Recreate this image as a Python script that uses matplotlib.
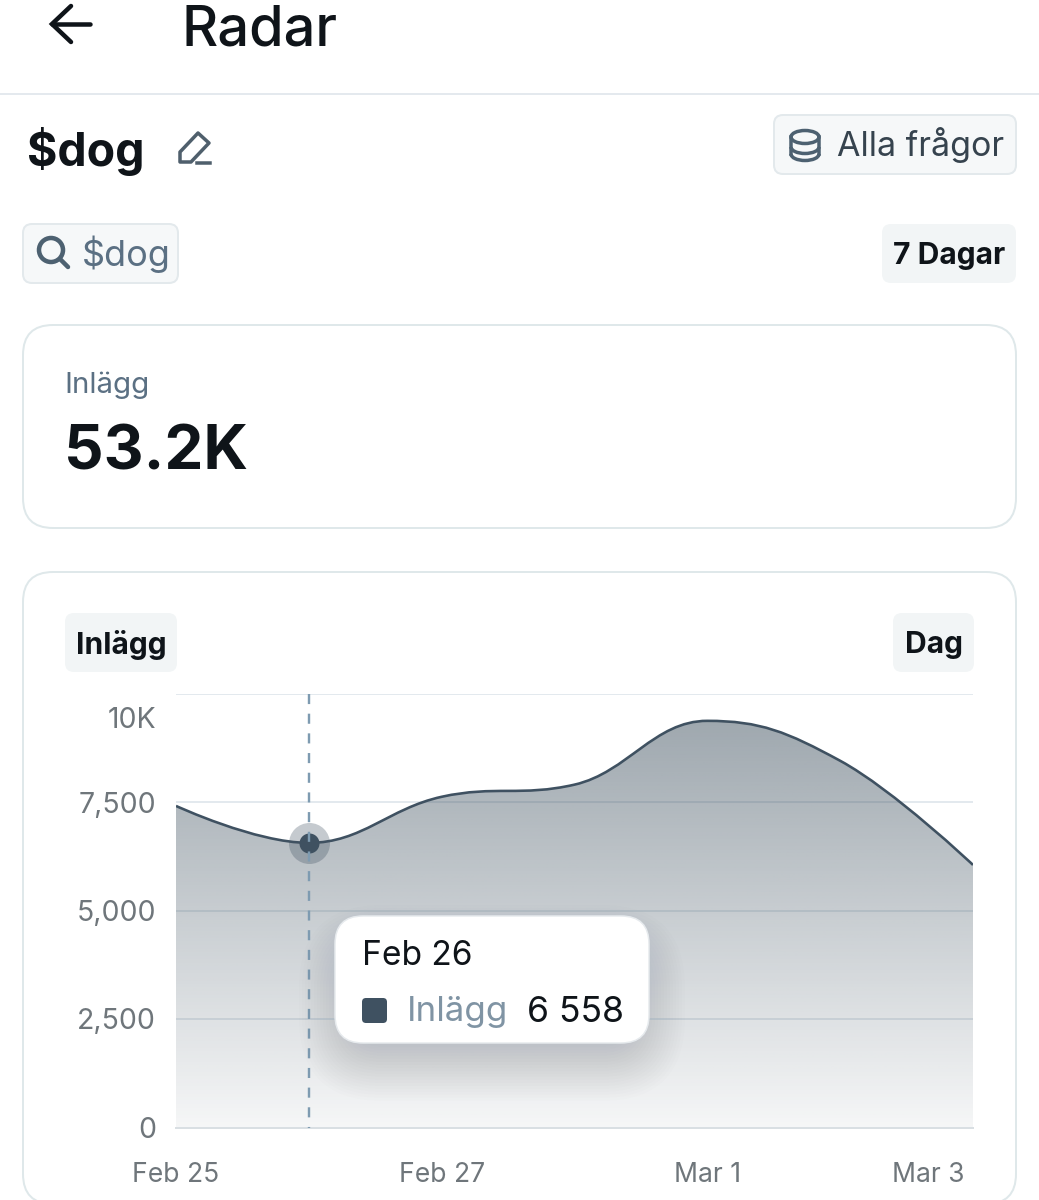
import numpy as np
import matplotlib
matplotlib.use('Agg')
import matplotlib.pyplot as plt
from matplotlib.patches import FancyBboxPatch, PathPatch, Circle, Ellipse, Polygon, Arc
from matplotlib.path import Path
from matplotlib.transforms import ScaledTranslation

# Data
day_labels = ['Feb 25', 'Feb 26', 'Feb 27', 'Feb 28', 'Mar 1', 'Mar 2', 'Mar 3']
post_counts = [7410, 6558, 7620, 7900, 9370, 8450, 6050]
y_ticks = [0, 2500, 5000, 7500, 10000]
y_tick_labels = ['0', '2,500', '5,000', '7,500', '10K']
total_label = '53.2K'
hover_index = 1
hover_value = '6 558'

W, H = 1039, 1200
DARK = '#0f1419'
SLATE = '#3f5161'
MUTED = '#5b7083'
TICK = '#6f767b'
ICON = '#4d6171'
FONT = 'Inter'

plt.rcParams['font.family'] = [FONT, 'DejaVu Sans']


# Size given in image pixels, matplotlib wants points
def px(size):
    return size * 72 / 100


def round_box(ax, x0, y0, x1, y1, r, fc='white', ec='none', lw=2, zorder=2, alpha=None):
    box = FancyBboxPatch((x0 + r, y0 + r), x1 - x0 - 2 * r, y1 - y0 - 2 * r,
                         boxstyle='round,pad=%f,rounding_size=%f' % (r, r),
                         fc=fc, ec=ec, lw=px(lw), zorder=zorder, alpha=alpha)
    ax.add_patch(box)
    return box


def label(ax, x, y, s, size, color=DARK, weight='normal', ha='left', zorder=5):
    return ax.text(x, y, s, fontsize=px(size), color=color, fontweight=weight,
                   ha=ha, va='center', zorder=zorder)


# Same smoothing as the spline the chart library uses (control points at 1.5/2.5)
def spline_path(xs, ys):
    verts = [(xs[0], ys[0])]
    codes = [Path.MOVETO]
    n = len(xs)
    prev_right = (xs[0], ys[0])
    for i in range(1, n):
        x, y = xs[i], ys[i]
        if i < n - 1:
            lx = (1.5 * x + xs[i - 1]) / 2.5
            ly = (1.5 * y + ys[i - 1]) / 2.5
            rx = (1.5 * x + xs[i + 1]) / 2.5
            ry = (1.5 * y + ys[i + 1]) / 2.5
            correction = (ry - ly) * (lx - x) / (rx - lx) + y - ly
            ly += correction
            ry += correction
            if ly > max(ys[i - 1], y):
                ly = max(ys[i - 1], y)
                ry = 2 * y - ly
            elif ly < min(ys[i - 1], y):
                ly = min(ys[i - 1], y)
                ry = 2 * y - ly
            if ry > max(y, ys[i + 1]):
                ry = max(y, ys[i + 1])
                ly = 2 * y - ry
            elif ry < min(y, ys[i + 1]):
                ry = min(y, ys[i + 1])
                ly = 2 * y - ry
        else:
            lx, ly = x, y
            rx, ry = x, y
        verts += [prev_right, (lx, ly), (x, y)]
        codes += [Path.CURVE4, Path.CURVE4, Path.CURVE4]
        prev_right = (rx, ry)
    return verts, codes


fig = plt.figure(figsize=(W / 100, H / 100), dpi=100, facecolor='white')

# Page chrome in pixel coordinates
ui = fig.add_axes([0, 0, 1, 1], zorder=1)
ui.set_xlim(0, W)
ui.set_ylim(H, 0)
ui.axis('off')

# Header
ui.plot([52, 90], [24, 24], color=DARK, lw=px(4.5), solid_capstyle='round')
ui.plot([71, 52, 71], [6, 24, 42], color=DARK, lw=px(4.5), solid_capstyle='round', solid_joinstyle='miter')
label(ui, 182, 30, 'Radar', 56, weight='medium')
ui.plot([0, W], [94, 94], color='#e4e9ee', lw=px(2))

# Title row
label(ui, 27, 151, '$dog', 46.5, weight='bold')
ui.add_patch(Polygon([[180, 162], [180, 152], [198, 133], [209, 143], [191, 162]], closed=True,
                     fc='none', ec='#4f5f6c', lw=px(3.5), joinstyle='round'))
ui.plot([197, 210], [163, 163], color='#4f5f6c', lw=px(3.5))

round_box(ui, 774, 115, 1016, 174, 9, fc='#f6f8f9', ec='#e3e9ec')
ui.add_patch(Ellipse((805, 137), 28, 13, fc='none', ec=ICON, lw=px(3.5), zorder=3))
for cy in [147, 154]:
    ui.add_patch(Arc((805, cy), 28, 13, theta1=0, theta2=180, ec=ICON, lw=px(3.5), zorder=3))
ui.plot([791, 791], [137, 154], color=ICON, lw=px(3.5), zorder=3)
ui.plot([819, 819], [137, 154], color=ICON, lw=px(3.5), zorder=3)
label(ui, 837, 145, 'Alla frågor', 34, color='#36434e')

# Filter row
round_box(ui, 23, 224, 178, 283, 9, fc='#f6f8f9', ec='#e3e9ec')
ui.add_patch(Circle((51, 250), 12, fc='none', ec=ICON, lw=px(4.5), zorder=3))
ui.plot([60, 68], [259, 267], color=ICON, lw=px(4.5), solid_capstyle='round', zorder=3)
label(ui, 82, 254, '$dog', 36, color=MUTED)
round_box(ui, 882, 224, 1016, 283, 9, fc='#f2f5f6')
label(ui, 949, 256, '7 Dagar', 30, weight='bold', ha='center')

# Total card
round_box(ui, 23, 325, 1016, 528, 30, ec='#dfe8ea')
label(ui, 64, 385, 'Inlägg', 29.5, color=MUTED)
label(ui, 64, 454, total_label, 62, weight='bold')

# Chart card, runs off the bottom of the picture
round_box(ui, 23, 572, 1016, 1204, 30, ec='#dfe8ea')
round_box(ui, 65, 613, 177, 672, 9, fc='#f2f5f6')
label(ui, 121, 645, 'Inlägg', 30, weight='bold', ha='center')
round_box(ui, 893, 613, 974, 672, 9, fc='#f2f5f6')
label(ui, 934, 645, 'Dag', 30, weight='bold', ha='center')

# Chart
plot_left, plot_right, plot_top, plot_bottom = 176, 973, 693.5, 1127.5
ax = fig.add_axes([plot_left / W, 1 - plot_bottom / H, (plot_right - plot_left) / W,
                   (plot_bottom - plot_top) / H], zorder=2)
ax.patch.set_alpha(0)
x_vals = list(range(len(day_labels)))
ax.set_xlim(0, len(day_labels) - 1)
ax.set_ylim(0, 10000)
for side in ax.spines:
    ax.spines[side].set_visible(False)

ax.set_yticks(y_ticks)
ax.set_yticklabels(y_tick_labels)
ax.set_xticks(x_vals[::2])
ax.set_xticklabels(day_labels[::2])
ax.tick_params(axis='y', length=0, pad=px(20), labelsize=px(28.5), labelcolor=TICK)
ax.tick_params(axis='x', length=0, pad=px(35), labelsize=px(26.5), labelcolor=TICK)
ax.grid(axis='y', color='#e3e9ee', lw=px(2), zorder=1)
ax.set_axisbelow(True)

# 10K and Mar 3 are pushed inside the plot edges
ax.get_yticklabels()[-1].set_transform(
    ax.get_yticklabels()[-1].get_transform() + ScaledTranslation(0, -24 / 100, fig.dpi_scale_trans))
last_x = ax.get_xticklabels()[-1]
last_x.set_ha('right')
last_x.set_transform(last_x.get_transform() + ScaledTranslation(-8 / 100, 0, fig.dpi_scale_trans))

verts, codes = spline_path(x_vals, post_counts)
area_verts = verts + [(x_vals[-1], 0), (x_vals[0], 0), (x_vals[0], post_counts[0])]
area_codes = codes + [Path.LINETO, Path.LINETO, Path.CLOSEPOLY]

# Vertical fade under the curve, top of the image sits at the curve peak
fade = np.zeros((256, 2, 4))
fade[..., :3] = matplotlib.colors.to_rgb('#3e505e')
fade[..., 3] = np.linspace(0.50, 0.05, 256)[:, None]
peak = max(post_counts)
img = ax.imshow(fade, extent=(x_vals[0], x_vals[-1], 0, peak), origin='upper', aspect='auto', zorder=2)
clip = PathPatch(Path(area_verts, area_codes), fc='none', ec='none', transform=ax.transData)
ax.add_patch(clip)
img.set_clip_path(clip)
ax.set_xlim(0, len(day_labels) - 1)
ax.set_ylim(0, 10000)

ax.add_patch(PathPatch(Path(verts, codes), fc='none', ec=SLATE, lw=px(2.6), zorder=3, capstyle='butt'))
ax.plot([0, 6], [0, 0], color='#d9dfe3', lw=px(2), zorder=2, clip_on=False)

# Hover marker
hover_x = x_vals[hover_index]
hover_y = post_counts[hover_index]
ax.plot([hover_x], [hover_y], 'o', ms=px(41), mfc=SLATE, mec='none', alpha=0.3, zorder=4)
ax.plot([hover_x], [hover_y], 'o', ms=px(20), mfc=SLATE, mec='none', zorder=4)
ax.plot([hover_x, hover_x], [10000, 0], color='#7e9bb1', lw=px(2.4), dashes=(4.2, 4), zorder=5, clip_on=False)

# Tooltip sits above everything, with a soft shadow mostly under it
top = fig.add_axes([0, 0, 1, 1], zorder=3)
top.set_xlim(0, W)
top.set_ylim(H, 0)
top.axis('off')
for grow in range(0, 64, 3):
    round_box(top, 362 - grow, 968 - grow, 622 + grow, 1038 + grow, 20 + grow,
              fc='#3a4650', alpha=0.007, zorder=1)
round_box(top, 335, 916, 649, 1043, 28, fc='white', ec='#e6eaed', lw=1.5, zorder=2)
label(top, 362, 956, day_labels[hover_index], 33.5, color=DARK)
round_box(top, 362, 998, 387, 1023, 4, fc=SLATE, zorder=3)
label(top, 407, 1012, 'Inlägg', 35, color='#8094a4')
label(top, 527, 1012, hover_value, 35.5, color=DARK)

fig.savefig('out.png', dpi=100, facecolor='white')
